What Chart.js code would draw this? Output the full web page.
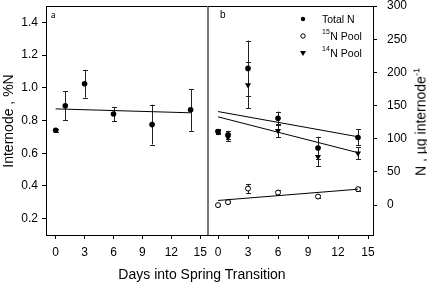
<!DOCTYPE html>
<html><head><meta charset="utf-8">
<script src="https://cdn.jsdelivr.net/npm/chart.js@4/dist/chart.umd.min.js"></script>
<style>
html,body{margin:0;padding:0;background:#fff;}
#wrap{position:relative;width:427px;height:288px;overflow:hidden;font-family:"Liberation Sans",Arial,sans-serif;}
canvas{position:absolute;left:0;top:0;}
.t{position:absolute;white-space:nowrap;color:#000;line-height:1;}
</style></head><body>
<div id="wrap">
<canvas id="ca" width="427" height="288"></canvas>
<canvas id="cb" width="427" height="288"></canvas>
<div class="t" style="left:202px;top:274px;font-size:14px;transform:translate(-50%,-50%)">Days into Spring Transition</div>
<div class="t" style="left:8px;top:121px;font-size:14px;transform:translate(-50%,-50%) rotate(-90deg)">Internode , %N</div>
<div class="t" style="left:420px;top:122px;font-size:14px;transform:translate(-50%,-50%) rotate(-90deg)">N , µg internode<sup style="font-size:9px;vertical-align:6px">-1</sup></div>
<div class="t" style="left:51px;top:10px;font-size:10px;font-family:'Liberation Serif',serif">a</div>
<div class="t" style="left:220px;top:10px;font-size:10px">b</div>
</div>
<script>
// ---- data ----
const days = [0, 1, 3, 6, 10, 14];
const pctN = [0.74, 0.89, 1.025, 0.84, 0.775, 0.865];
const pctNErr = [0.01, 0.09, 0.085, 0.043, 0.122, 0.128];
const fitDays = [0, 14];
const fitPctN = [0.871, 0.847];

const totalN = [111, 106, 206, 131, 86, 102];
const totalNErr = [3, 6, 42, 10, 17, 12];
const n15Pool = [0, 4.5, 25, 19, 13, 24];
const n15PoolErr = [1, 1.5, 7, 3.5, 3, 3];
const n14Pool = [110, 102, 181, 112, 73, 78];
const n14PoolErr = [3, 5, 35, 10, 14, 9];
const fitTotalN = [141, 103];
const fitN15 = [7, 24];
const fitN14 = [133, 79];

const xTicks = [0, 3, 6, 9, 12, 15];
const yTicksA = [0.2, 0.4, 0.6, 0.8, 1.0, 1.2, 1.4];
const yTicksB = [0, 50, 100, 150, 200, 250, 300];
const legendLabels = [["", "Total N"], ["15", "N Pool"], ["14", "N Pool"]];

const FONT = "'Liberation Sans', Arial, sans-serif";
Chart.defaults.font.family = FONT;
Chart.defaults.color = '#000';

const pts = (xs, ys) => xs.map((x, i) => ({x, y: ys[i]}));
const noPad = s => { s.paddingTop = 0; s.paddingBottom = 0; s.paddingLeft = 0; s.paddingRight = 0; };

const errPlugin = {
  id: 'errbars',
  beforeDatasetsDraw(chart) {
    const ctx = chart.ctx, xs = chart.scales.x, ys = chart.scales.y;
    ctx.save();
    ctx.strokeStyle = '#222';
    ctx.lineWidth = 1;
    chart.data.datasets.forEach(ds => {
      if (!ds.errors) return;
      ds.data.forEach((p, i) => {
        const e = ds.errors[i];
        const px = Math.round(xs.getPixelForValue(p.x)) + 0.5;
        const y1 = ys.getPixelForValue(p.y + e), y2 = ys.getPixelForValue(p.y - e);
        ctx.beginPath();
        ctx.moveTo(px, y1); ctx.lineTo(px, y2);
        ctx.moveTo(px - 2.5, Math.round(y1) + 0.5); ctx.lineTo(px + 2.5, Math.round(y1) + 0.5);
        ctx.moveTo(px - 2.5, Math.round(y2) + 0.5); ctx.lineTo(px + 2.5, Math.round(y2) + 0.5);
        ctx.stroke();
      });
    });
    ctx.restore();
  }
};

const framePlugin = {
  id: 'frame',
  afterDraw(chart, args, opts) {
    const ctx = chart.ctx, a = chart.chartArea;
    ctx.save();
    ctx.lineWidth = 1;
    ctx.strokeStyle = '#000';
    ctx.beginPath();
    ctx.moveTo(a.left, a.top + 0.5); ctx.lineTo(a.right, a.top + 0.5);
    ctx.stroke();
    if (opts.divider === 'right') {
      ctx.strokeStyle = '#777'; ctx.lineWidth = 2;
      ctx.beginPath(); ctx.moveTo(a.right, a.top); ctx.lineTo(a.right, a.bottom); ctx.stroke();
    }
    ctx.restore();
  }
};

const legendPlugin = {
  id: 'customLegend',
  afterDraw(chart, args, opts) {
    if (!opts.show) return;
    const ctx = chart.ctx;
    ctx.save();
    const mx = 303, tx = 322, rows = [19, 36, 53];
    ctx.fillStyle = '#000'; ctx.strokeStyle = '#000'; ctx.lineWidth = 1;
    ctx.beginPath(); ctx.arc(mx, rows[0], 2.2, 0, Math.PI * 2); ctx.fill();
    ctx.beginPath(); ctx.arc(mx, rows[1], 2.2, 0, Math.PI * 2); ctx.fillStyle = '#fff'; ctx.fill(); ctx.stroke();
    ctx.fillStyle = '#000';
    ctx.beginPath(); ctx.moveTo(mx - 3, rows[2] - 2); ctx.lineTo(mx + 3, rows[2] - 2); ctx.lineTo(mx, rows[2] + 3); ctx.closePath(); ctx.fill();
    ctx.textBaseline = 'middle';
    legendLabels.forEach((l, i) => {
      let x = tx;
      if (l[0]) {
        ctx.font = '7px ' + FONT;
        ctx.fillText(l[0], x, rows[i] - 4);
        x += ctx.measureText(l[0]).width + 0.5;
      }
      ctx.font = '10.5px ' + FONT;
      ctx.fillText(l[1], x, rows[i] + 1);
    });
    ctx.restore();
  }
};

function xScale(max) {
  return {
    type: 'linear', min: -1, max: max,
    afterBuildTicks: s => { s.ticks = xTicks.map(v => ({value: v})); },
    afterFit: s => { s.height = 53; noPad(s); },
    grid: {display: true, drawOnChartArea: false, drawTicks: true, tickLength: 4, color: '#000'},
    border: {display: true, color: '#000', width: 1},
    ticks: {color: '#000', font: {size: 12}, padding: 6, maxRotation: 0, callback: v => String(v)}
  };
}

new Chart(document.getElementById('ca'), {
  type: 'scatter',
  data: {
    datasets: [
      {data: pts(fitDays, fitPctN), showLine: true, borderColor: '#000', borderWidth: 1, pointRadius: 0},
      {data: pts(days, pctN), errors: pctNErr, pointRadius: 2.8, pointBackgroundColor: '#000', pointBorderColor: '#000', pointBorderWidth: 0}
    ]
  },
  options: {
    responsive: false, animation: false, devicePixelRatio: 1,
    layout: {padding: {left: 0, right: 219, top: 6, bottom: 0}},
    plugins: {legend: {display: false}, tooltip: {enabled: false}, frame: {divider: 'right'}, customLegend: {show: false}},
    scales: {
      x: xScale(15.8),
      y: {
        type: 'linear', min: 0.1, max: 1.5, position: 'left',
        afterBuildTicks: s => { s.ticks = yTicksA.map(v => ({value: v})); },
        afterFit: s => { s.width = 46; noPad(s); },
        grid: {display: true, drawOnChartArea: false, drawTicks: true, tickLength: 4, color: '#000'},
        border: {display: true, color: '#000', width: 1},
        ticks: {color: '#000', font: {size: 12}, padding: 4, callback: v => Number(v).toFixed(1)}
      }
    }
  },
  plugins: [errPlugin, framePlugin, legendPlugin]
});

new Chart(document.getElementById('cb'), {
  type: 'scatter',
  data: {
    datasets: [
      {data: pts(fitDays, fitTotalN), showLine: true, borderColor: '#000', borderWidth: 1, pointRadius: 0},
      {data: pts(fitDays, fitN14), showLine: true, borderColor: '#000', borderWidth: 1, pointRadius: 0},
      {data: pts(fitDays, fitN15), showLine: true, borderColor: '#000', borderWidth: 1, pointRadius: 0},
      {data: pts(days, totalN), errors: totalNErr, pointRadius: 2.8, pointBackgroundColor: '#000', pointBorderColor: '#000', pointBorderWidth: 0},
      {data: pts(days, n15Pool), errors: n15PoolErr, pointRadius: 2.5, pointBackgroundColor: '#fff', pointBorderColor: '#000', pointBorderWidth: 1},
      {data: pts(days, n14Pool), errors: n14PoolErr, pointStyle: 'triangle', rotation: 180, pointRadius: 3.5, pointBackgroundColor: '#000', pointBorderColor: '#000', pointBorderWidth: 0}
    ]
  },
  options: {
    responsive: false, animation: false, devicePixelRatio: 1,
    layout: {padding: {left: 208, right: 0, top: 6, bottom: 0}},
    plugins: {legend: {display: false}, tooltip: {enabled: false}, frame: {divider: 'none'}, customLegend: {show: true}},
    scales: {
      x: xScale(15.5),
      y: {
        type: 'linear', min: -45, max: 300, position: 'right',
        afterBuildTicks: s => { s.ticks = yTicksB.map(v => ({value: v})); },
        afterFit: s => { s.width = 54; noPad(s); },
        grid: {display: true, drawOnChartArea: false, drawTicks: true, tickLength: 4, color: '#000'},
        border: {display: true, color: '#000', width: 1},
        ticks: {color: '#000', font: {size: 12}, padding: 10, callback: v => String(v)}
      }
    }
  },
  plugins: [errPlugin, framePlugin, legendPlugin]
});
</script>
</body></html>
